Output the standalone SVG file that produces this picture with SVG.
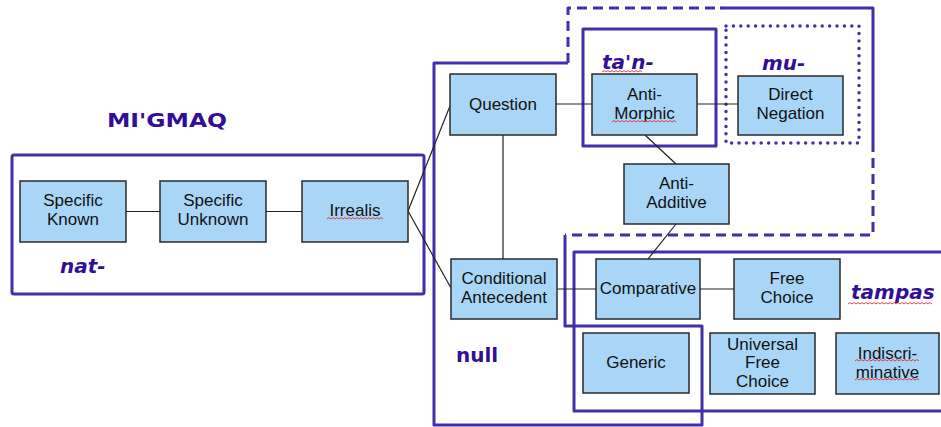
<svg xmlns="http://www.w3.org/2000/svg" width="941" height="427" viewBox="0 0 941 427">
<style>
.node rect{fill:#a9d6f7;stroke:#2a2a2a;stroke-width:1.5}
.node text{font-family:"Liberation Sans",Arial,sans-serif;font-size:17px;fill:#111;text-anchor:middle}
.conn line{stroke:#222;stroke-width:1.2}
.ol{fill:none;stroke:#4030aa;stroke-width:3;stroke-linejoin:round}
.dash{stroke-dasharray:10 6}
.dot{stroke-dasharray:0 7.4;stroke-linecap:round;stroke-width:3.5}
.lab{font-family:"DejaVu Sans",Verdana,sans-serif;font-weight:bold;font-size:20px;fill:#330f98}
.it{font-style:italic}
.sq{fill:none;stroke:#e0302a;stroke-width:0.9}
</style>
<rect width="941" height="427" fill="#fff"/>
<g id="outlines">
<rect class="ol" x="12" y="155" width="412" height="139" rx="2"/>
<path class="ol" d="M568,63 L434,63 L434,425 L702,425 L702,326 L565,326 L565,235"/>
<path class="ol dash" d="M568,63 L568,8 L722,8"/>
<path class="ol" d="M720,8 L873,8 L873,142"/>
<path class="ol dash" d="M873,142 L873,235 L565,235"/>
<rect class="ol" x="583" y="29" width="133" height="117"/>
<rect class="ol dot" x="726" y="26" width="133" height="117"/>
<rect class="ol" x="574" y="252" width="380" height="159"/>
</g>
<g id="connectors" class="conn">
<line x1="126" y1="211.5" x2="160" y2="211.5"/>
<line x1="266" y1="211.5" x2="302" y2="211.5"/>
<line x1="408" y1="211" x2="450" y2="106"/>
<line x1="408" y1="211" x2="451" y2="288"/>
<line x1="556" y1="104" x2="592" y2="104"/>
<line x1="697" y1="104" x2="738" y2="104"/>
<line x1="503" y1="135" x2="503" y2="259"/>
<line x1="645" y1="135" x2="676" y2="164"/>
<line x1="676" y1="224" x2="648" y2="259"/>
<line x1="557" y1="289" x2="596" y2="289"/>
<line x1="700" y1="289" x2="734" y2="289"/>
</g>
<g id="n-specific-known" class="node"><rect x="20" y="181" width="106" height="61"/><text x="73" y="206">Specific</text><text x="73" y="225">Known</text></g>
<g id="n-specific-unknown" class="node"><rect x="160" y="181" width="106" height="61"/><text x="213" y="206">Specific</text><text x="213" y="225">Unknown</text></g>
<g id="n-irrealis" class="node"><rect x="302" y="181" width="106" height="61"/><text x="355" y="216">Irrealis</text></g>
<g id="n-question" class="node"><rect x="450" y="74" width="106" height="61"/><text x="503" y="109.5">Question</text></g>
<g id="n-anti-morphic" class="node"><rect x="592" y="74" width="105" height="61"/><text x="644.5" y="99.5">Anti-</text><text x="644.5" y="118.5">Morphic</text></g>
<g id="n-direct-negation" class="node"><rect x="738" y="76" width="105" height="59"/><text x="790.5" y="100">Direct</text><text x="790.5" y="119">Negation</text></g>
<g id="n-anti-additive" class="node"><rect x="624" y="164" width="105" height="60"/><text x="676.5" y="188.5">Anti-</text><text x="676.5" y="207.5">Additive</text></g>
<g id="n-conditional-antecedent" class="node"><rect x="451" y="259" width="106" height="60"/><text x="504" y="283.5">Conditional</text><text x="504" y="302.5">Antecedent</text></g>
<g id="n-comparative" class="node"><rect x="596" y="259" width="104" height="60"/><text x="648" y="294">Comparative</text></g>
<g id="n-free-choice" class="node"><rect x="734" y="259" width="106" height="60"/><text x="787" y="283.5">Free</text><text x="787" y="302.5">Choice</text></g>
<g id="n-generic" class="node"><rect x="583" y="333" width="106" height="60"/><text x="636" y="368">Generic</text></g>
<g id="n-universal-free-choice" class="node"><rect x="710" y="333" width="105" height="61"/><text x="762.5" y="349.5">Universal</text><text x="762.5" y="368">Free</text><text x="762.5" y="386.5">Choice</text></g>
<g id="n-indiscriminative" class="node"><rect x="836" y="333" width="103" height="61"/><text x="887.5" y="358.5">Indiscri-</text><text x="887.5" y="377.5">minative</text></g>
<g id="labels">
<text class="lab" x="107" y="127" textLength="120" lengthAdjust="spacingAndGlyphs">MI'GMAQ</text>
<text class="lab it" x="60" y="273">nat-</text>
<text class="lab it" x="602" y="69">ta'n-</text>
<text class="lab it" x="762" y="70">mu-</text>
<text class="lab it" x="851" y="299">tampas</text>
<text class="lab" x="456" y="362">null</text>
</g>
<g id="squiggles">
<path class="sq" d="M602,72 l2,-1.5 l2,1.5 l2,-1.5 l2,1.5 l2,-1.5 l2,1.5 l2,-1.5 l2,1.5 l2,-1.5 l2,1.5 l2,-1.5 l2,1.5 l2,-1.5 l2,1.5 l2,-1.5 l2,1.5 l2,-1.5 l2,1.5 l2,-1.5 l2,1.5"/>
<path class="sq" d="M612,122 l2,-1.5 l2,1.5 l2,-1.5 l2,1.5 l2,-1.5 l2,1.5 l2,-1.5 l2,1.5 l2,-1.5 l2,1.5 l2,-1.5 l2,1.5 l2,-1.5 l2,1.5 l2,-1.5 l2,1.5 l2,-1.5 l2,1.5 l2,-1.5 l2,1.5 l2,-1.5 l2,1.5 l2,-1.5 l2,1.5 l2,-1.5 l2,1.5 l2,-1.5 l2,1.5 l2,-1.5 l2,1.5 l2,-1.5 l2,1.5"/>
<path class="sq" d="M327,219 l2,-1.5 l2,1.5 l2,-1.5 l2,1.5 l2,-1.5 l2,1.5 l2,-1.5 l2,1.5 l2,-1.5 l2,1.5 l2,-1.5 l2,1.5 l2,-1.5 l2,1.5 l2,-1.5 l2,1.5 l2,-1.5 l2,1.5 l2,-1.5 l2,1.5 l2,-1.5 l2,1.5 l2,-1.5 l2,1.5 l2,-1.5 l2,1.5 l2,-1.5 l2,1.5"/>
<path class="sq" d="M848,304 l2,-1.5 l2,1.5 l2,-1.5 l2,1.5 l2,-1.5 l2,1.5 l2,-1.5 l2,1.5 l2,-1.5 l2,1.5 l2,-1.5 l2,1.5 l2,-1.5 l2,1.5 l2,-1.5 l2,1.5 l2,-1.5 l2,1.5 l2,-1.5 l2,1.5 l2,-1.5 l2,1.5 l2,-1.5 l2,1.5 l2,-1.5 l2,1.5 l2,-1.5 l2,1.5 l2,-1.5 l2,1.5 l2,-1.5 l2,1.5 l2,-1.5 l2,1.5 l2,-1.5 l2,1.5 l2,-1.5 l2,1.5 l2,-1.5 l2,1.5 l2,-1.5 l2,1.5"/>
<path class="sq" d="M855,361 l2,-1.5 l2,1.5 l2,-1.5 l2,1.5 l2,-1.5 l2,1.5 l2,-1.5 l2,1.5 l2,-1.5 l2,1.5 l2,-1.5 l2,1.5 l2,-1.5 l2,1.5 l2,-1.5 l2,1.5 l2,-1.5 l2,1.5 l2,-1.5 l2,1.5 l2,-1.5 l2,1.5 l2,-1.5 l2,1.5 l2,-1.5 l2,1.5 l2,-1.5 l2,1.5 l2,-1.5 l2,1.5 l2,-1.5 l2,1.5"/>
<path class="sq" d="M855,380 l2,-1.5 l2,1.5 l2,-1.5 l2,1.5 l2,-1.5 l2,1.5 l2,-1.5 l2,1.5 l2,-1.5 l2,1.5 l2,-1.5 l2,1.5 l2,-1.5 l2,1.5 l2,-1.5 l2,1.5 l2,-1.5 l2,1.5 l2,-1.5 l2,1.5 l2,-1.5 l2,1.5 l2,-1.5 l2,1.5 l2,-1.5 l2,1.5 l2,-1.5 l2,1.5 l2,-1.5 l2,1.5 l2,-1.5 l2,1.5"/>
</g>
</svg>
